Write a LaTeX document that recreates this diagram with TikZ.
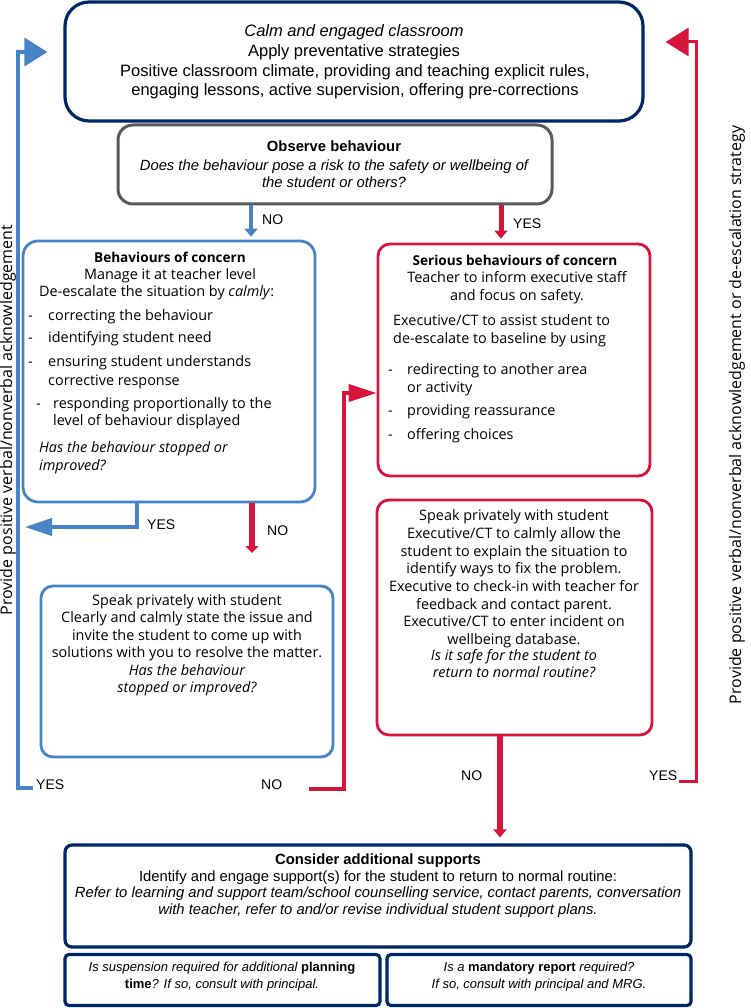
\documentclass[tikz,border=0pt]{standalone}
\usepackage{fontspec}
\setmainfont{Liberation Sans}
\newfontfamily\osans{Open Sans}
\usetikzlibrary{arrows.meta}
\definecolor{navy}{RGB}{0,38,100}
\definecolor{nswblue}{RGB}{72,131,199}
\definecolor{nswred}{RGB}{215,21,58}
\definecolor{boxgray}{RGB}{90,90,90}
\newcommand\boldtitle[1]{{\fontsize{13.6}{16}\selectfont\bfseries #1}}
\tikzset{
  navybox/.style={draw=navy, line width=3.2pt, inner sep=0pt},
  graybox/.style={draw=boxgray, line width=3pt, rounded corners=15pt, inner sep=0pt},
  bluebox/.style={draw=nswblue, line width=2.8pt, rounded corners=15pt, inner sep=0pt},
  redbox/.style={draw=nswred, line width=2.8pt, rounded corners=12pt, inner sep=0pt},
  tc/.style={anchor=mid, inner sep=0pt},
  tw/.style={anchor=mid west, inner sep=0pt},
  cf/.style={font=\fontsize{16.5}{19}\selectfont},
  cg/.style={font=\fontsize{14.8}{17}\selectfont},
  lf/.style={font=\fontsize{14}{17}\selectfont},
  sf/.style={font=\fontsize{13}{16}\selectfont},
  of/.style={font=\osans\fontsize{14.4}{17}\selectfont},
  rf/.style={font=\osans\fontsize{16}{19}\selectfont},
  bconn/.style={draw=nswblue, line width=4.5pt, -{Triangle[length=8pt,width=13pt]}},
  rconn/.style={draw=nswred, line width=5pt, -{Triangle[length=8pt,width=13pt]}},
}
\begin{document}
\begin{tikzpicture}[x=1pt,y=-1pt]
\useasboundingbox[fill=white] (0,0) rectangle (750,1008);

% boxes
\node[navybox, rounded corners=24pt, minimum width=578pt, minimum height=119pt] (top) at (354,61.5) {};
\node[graybox, minimum width=434pt, minimum height=79pt] (obs) at (335,164.5) {};
\node[bluebox, minimum width=292pt, minimum height=261pt] (beh) at (169,371.5) {};
\node[redbox, minimum width=272pt, minimum height=232pt] (ser) at (514,360) {};
\node[bluebox, rounded corners=12pt, minimum width=292pt, minimum height=171pt] (spL) at (187,671.5) {};
\node[redbox, minimum width=275pt, minimum height=235pt] (spR) at (514.5,617.5) {};
\node[navybox, rounded corners=7pt, minimum width=626pt, minimum height=102pt] (sup) at (378,896) {};
\node[navybox, rounded corners=4pt, minimum width=315pt, minimum height=51pt] (susp) at (222.5,980) {};
\node[navybox, rounded corners=4pt, minimum width=304pt, minimum height=51pt] (mand) at (539,980) {};

% top box text
\node[cf,tc] (tA1) at (354,34) {\itshape Calm and engaged classroom};
\node[cf,tc] (tA2) at (354,54) {Apply preventative strategies};
\node[cf,tc] (tA3) at (355,74) {Positive classroom climate, providing and teaching explicit rules,};
\node[cf,tc] (tA4) at (355,93) {engaging lessons, active supervision, offering pre-corrections};

% observe
\node[cg,tc] (tB1) at (334,149) {\bfseries Observe behaviour};
\node[cg,tc] (tB2) at (334,168) {\itshape Does the behaviour pose a risk to the safety or wellbeing of};
\node[cg,tc] (tB3) at (334,185) {\itshape the student or others?};

% behaviours of concern
\node[of,tc] (tC1) at (170,260) {\boldtitle{Behaviours of concern}};
\node[of,tc] (tC2) at (170,277) {Manage it at teacher level};
\node[of,tw] (tC3) at (39,294) {De-escalate the situation by \textit{calmly}:};
\node[of,tw] (dC1) at (28,318) {-};
\node[of,tw] (tC4) at (48,318) {correcting the behaviour};
\node[of,tw] (dC2) at (28,340) {-};
\node[of,tw] (tC5) at (48,340) {identifying student need};
\node[of,tw] (dC3) at (28,364) {-};
\node[of,tw] (tC6) at (48,364) {ensuring student understands};
\node[of,tw] (tC7) at (48,383) {corrective response};
\node[of,tw] (dC4) at (36,406) {-};
\node[of,tw] (tC8) at (53,406) {responding proportionally to the};
\node[of,tw] (tC9) at (53,423) {level of behaviour displayed};
\node[of,tw] (tC10) at (39,450) {\itshape Has the behaviour stopped or};
\node[of,tw] (tC11) at (39,468) {\itshape improved?};

% serious
\node[of,tc] (tD1) at (515,263) {\boldtitle{Serious behaviours of concern}};
\node[of,tc] (tD2) at (517,280) {Teacher to inform executive staff};
\node[of,tc] (tD3) at (517,298) {and focus on safety.};
\node[of,tw] (tD4) at (393,323) {Executive/CT to assist student to};
\node[of,tw] (tD5) at (393,341) {de-escalate to baseline by using};
\node[of,tw] (dD1) at (388,372) {-};
\node[of,tw] (tD6) at (407,372) {redirecting to another area};
\node[of,tw] (tD7) at (407,390) {or activity};
\node[of,tw] (dD2) at (388,413) {-};
\node[of,tw] (tD8) at (407,413) {providing reassurance};
\node[of,tw] (dD3) at (388,437) {-};
\node[of,tw] (tD9) at (407,437) {offering choices};

% left speak
\node[of,tc] (tE1) at (187,603) {Speak privately with student};
\node[of,tc] (tE2) at (187,620) {Clearly and calmly state the issue and};
\node[of,tc] (tE3) at (187,638) {invite the student to come up with};
\node[of,tc] (tE4) at (187,655) {solutions with you to resolve the matter.};
\node[of,tc] (tE5) at (187,673) {\itshape Has the behaviour};
\node[of,tc] (tE6) at (187,690) {\itshape stopped or improved?};

% right speak
\node[of,tc] (tF1) at (514,518) {Speak privately with student};
\node[of,tc] (tF2) at (514,536) {Executive/CT to calmly allow the};
\node[of,tc] (tF3) at (514,554) {student to explain the situation to};
\node[of,tc] (tF4) at (514,571) {identify ways to fix the problem.};
\node[of,tc] (tF5) at (514,589) {Executive to check-in with teacher for};
\node[of,tc] (tF6) at (514,607) {feedback and contact parent.};
\node[of,tc] (tF7) at (514,624) {Executive/CT to enter incident on};
\node[of,tc] (tF8) at (514,642) {wellbeing database.};
\node[of,tc] (tF9) at (514,658) {\itshape Is it safe for the student to};
\node[of,tc] (tF10) at (514,675) {\itshape return to normal routine?};

% bottom
\node[cg,tc] (tG1) at (378,862) {\bfseries Consider additional supports};
\node[cg,tc] (tG2) at (378,879) {Identify and engage support(s) for the student to return to normal routine:};
\node[cg,tc] (tG3) at (378,895) {\itshape Refer to learning and support team/school counselling service, contact parents, conversation};
\node[cg,tc] (tG4) at (378,912) {\itshape with teacher, refer to and/or revise individual student support plans.};
\node[sf,tc] (tH1) at (222,969) {\itshape Is suspension required for additional \textbf{\upshape planning}};
\node[sf,tc] (tH2) at (222,986) {\textbf{time}\textit{? If so, consult with principal.}};
\node[sf,tc] (tI1) at (539,969) {\textit{Is a} \textbf{mandatory report} \textit{required?}};
\node[sf,tc] (tI2) at (539,986) {\itshape If so, consult with principal and MRG.};

% labels
\node[lf,tw] (l1) at (262,222) {NO};
\node[lf,tw] (l2) at (513,226) {YES};
\node[lf,tw] (l3) at (147,527) {YES};
\node[lf,tw] (l4) at (267,533) {NO};
\node[lf,tw] (l5) at (36,787) {YES};
\node[lf,tw] (l6) at (261,787) {NO};
\node[lf,tw] (l7) at (461,778) {NO};
\node[lf,tw] (l8) at (649,778) {YES};

% rotated side labels
\node[rf, rotate=90, inner sep=0pt] (sideL) at (8,420) {Provide positive verbal/nonverbal acknowledgement};
\node[rf, rotate=90, inner sep=0pt] (sideR) at (737,415) {Provide positive verbal/nonverbal acknowledgement or de-escalation strategy};

% free ends
\coordinate (yesA) at (25,527);
\coordinate (noA) at (252,553);
\coordinate (yesB) at (33,788);
\coordinate (noB) at (309,789);
\coordinate (yesC) at (679,781);

% connectors
\draw[bconn, shorten >=3pt] ([xshift=-84pt]obs.south) -- ([xshift=-84pt]obs.south |- beh.north);
\draw[rconn, shorten >=4pt] ([xshift=166pt]obs.south) -- ([xshift=166pt]obs.south |- ser.north);
\draw[draw=nswblue, line width=4pt, -{Triangle[length=27pt,width=17pt]}] ([xshift=-32pt]beh.south) |- (yesA);
\draw[draw=nswred, line width=6pt, -{Triangle[length=7pt,width=13pt]}] ([xshift=83pt]beh.south) -- (noA);
\draw[draw=nswblue, line width=3.5pt, shorten >=16pt, -{Triangle[length=23pt,width=28pt]}] (yesB) -- (18,788) -- (18,52) -- ([yshift=9.5pt]top.west);
\draw[draw=nswred, line width=4pt, -{Triangle[length=28pt,width=17pt]}] (noB) -- (344,789) -- (344,393) -- (ser.west |- 0,393);
\draw[rconn, line width=5.5pt, shorten >=6pt] ([xshift=-14.5pt]spR.south) -- ([xshift=-14.5pt]spR.south |- sup.north);
\draw[draw=nswred, line width=3pt, shorten >=21pt, -{Triangle[length=23pt,width=28pt]}] (yesC) -- (696,781) -- (696,42) -- ([yshift=19.5pt]top.east);
\end{tikzpicture}
\end{document}
